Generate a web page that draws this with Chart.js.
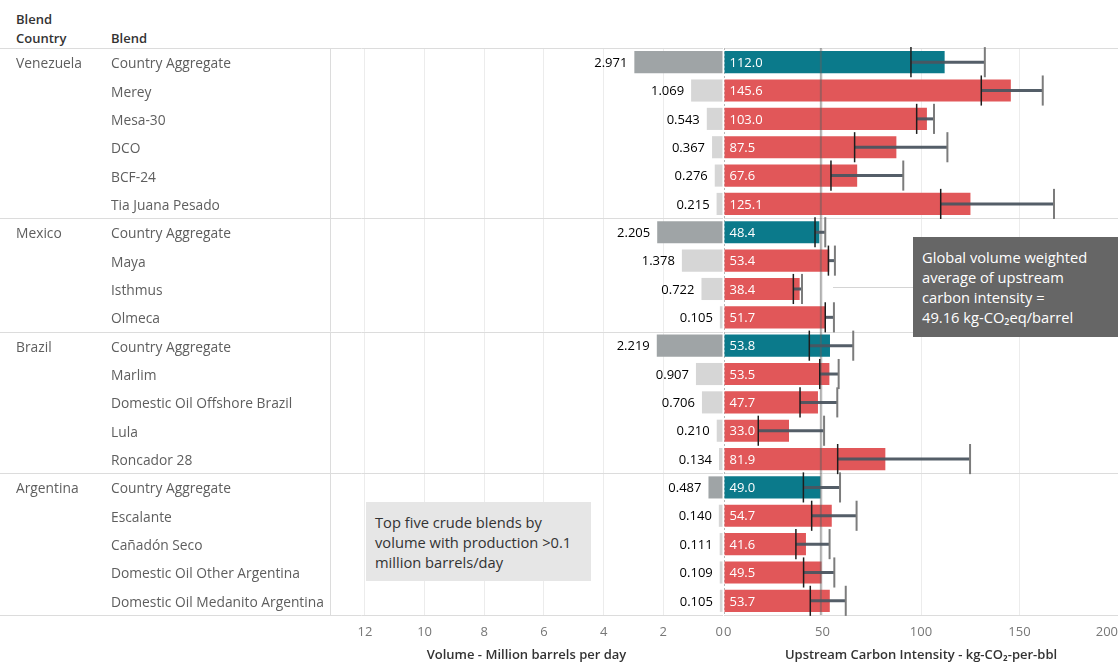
<!DOCTYPE html>
<html>
<head>
<meta charset="utf-8">
<script src="https://cdn.jsdelivr.net/npm/chart.js@4.4.1/dist/chart.umd.min.js"></script>
<style>
    body { margin: 0; background: #fff; font-family: "Open Sans", sans-serif; }
    #wrap { position: relative; width: 1118px; height: 665px; overflow: hidden; }
    canvas { position: absolute; top: 0; }
    #volChart { left: 0; }
    #ciChart { left: 700px; }
    .rowLabel { position: absolute; font-size: 13.8px; color: #5e5e5e; white-space: nowrap; line-height: 18px; transform: translateY(-50%); }
    .header { position: absolute; font-size: 13px; color: #333; font-weight: 600; line-height: 19px; }
    .note { position: absolute; box-sizing: border-box; font-size: 14.7px; line-height: 20px; }
    .connector { position: absolute; height: 1px; background: #d4d4d4; }
</style>
</head>
<body>
<div id="wrap">
    <div class="header" style="left:16px; top:10px;">Blend<br>Country</div>
    <div class="header" style="left:111px; top:29px;">Blend</div>
    <canvas id="volChart" width="745" height="665"></canvas>
    <canvas id="ciChart" width="428" height="665"></canvas>
</div>
<script>
const countryNames = ['Venezuela', 'Mexico', 'Brazil', 'Argentina'];
const blendsPerCountry = [6, 4, 5, 5];
const blends = [
    'Country Aggregate', 'Merey', 'Mesa-30', 'DCO', 'BCF-24', 'Tia Juana Pesado',
    'Country Aggregate', 'Maya', 'Isthmus', 'Olmeca',
    'Country Aggregate', 'Marlim', 'Domestic Oil Offshore Brazil', 'Lula', 'Roncador 28',
    'Country Aggregate', 'Escalante', 'Cañadón Seco', 'Domestic Oil Other Argentina', 'Domestic Oil Medanito Argentina'
];
// million barrels per day
const volume = [2.971, 1.069, 0.543, 0.367, 0.276, 0.215,
    2.205, 1.378, 0.722, 0.105,
    2.219, 0.907, 0.706, 0.210, 0.134,
    0.487, 0.140, 0.111, 0.109, 0.105];
// kg-CO2 per bbl
const intensity = [112.0, 145.6, 103.0, 87.5, 67.6, 125.1,
    48.4, 53.4, 38.4, 51.7,
    53.8, 53.5, 47.7, 33.0, 81.9,
    49.0, 54.7, 41.6, 49.5, 53.7];
const intensityLow = [94.9, 130.6, 97.8, 66.3, 54.3, 110.0,
    46.2, 53.0, 35.2, 51.4,
    43.3, 48.6, 38.6, 17.4, 57.7,
    40.3, 44.5, 36.5, 40.4, 43.8];
const intensityHigh = [132.4, 161.8, 106.6, 113.4, 91.0, 167.5,
    51.4, 56.3, 39.6, 55.8,
    65.6, 58.2, 57.5, 50.8, 124.9,
    58.9, 67.3, 53.6, 56.0, 61.8];
const globalAverage = 49.16;
const volumeAxisMax = 13.17;
const intensityAxisMax = 200;

Chart.defaults.font.family = '"Open Sans", sans-serif';

// country of each row
const rowCountry = [];
countryNames.forEach((c, k) => {
    for (let j = 0; j < blendsPerCountry[k]; j++) rowCountry.push(c);
});
const isAggregate = blends.map(b => b === 'Country Aggregate');

// pixel y of the lines between countries
function groupLines(chart) {
    const y = chart.scales.y;
    const lines = [chart.chartArea.top, chart.chartArea.bottom];
    for (let i = 1; i < blends.length; i++) {
        if (rowCountry[i] !== rowCountry[i - 1]) {
            lines.push((y.getPixelForValue(i - 1) + y.getPixelForValue(i)) / 2);
        }
    }
    return lines;
}

const volPlugin = {
    id: 'volExtras',
    beforeDraw(chart) {
        // keep left zero label right of the panel edge
        const items = chart.scales.x.getLabelItems();
        items.forEach(it => {
            if (it.label === '0') it.options.textAlign = 'right';
        });
    },
    beforeDatasetsDraw(chart) {
        const ctx = chart.ctx;
        const area = chart.chartArea;
        ctx.save();
        ctx.strokeStyle = '#dcdcdc';
        ctx.lineWidth = 1;
        groupLines(chart).forEach(y => {
            ctx.beginPath();
            ctx.moveTo(0, Math.round(y) + 0.5);
            ctx.lineTo(area.right, Math.round(y) + 0.5);
            ctx.stroke();
        });
        ctx.beginPath();
        ctx.moveTo(Math.round(area.left) + 0.5, area.top);
        ctx.lineTo(Math.round(area.left) + 0.5, area.bottom);
        ctx.stroke();
        ctx.restore();
    },
    afterDatasetsDraw(chart) {
        const ctx = chart.ctx;
        const meta = chart.getDatasetMeta(0);
        ctx.save();
        ctx.font = '13px "Open Sans", sans-serif';
        ctx.fillStyle = '#000';
        ctx.textAlign = 'right';
        ctx.textBaseline = 'middle';
        meta.data.forEach((el, i) => {
            ctx.fillText(volume[i].toFixed(3), el.x - 7, el.y + 1);
        });
        ctx.restore();
    }
};

const ciPlugin = {
    id: 'ciExtras',
    beforeDatasetsDraw(chart) {
        const ctx = chart.ctx;
        const area = chart.chartArea;
        const x = chart.scales.x;
        ctx.save();
        ctx.strokeStyle = '#dcdcdc';
        ctx.lineWidth = 1;
        groupLines(chart).forEach(y => {
            ctx.beginPath();
            ctx.moveTo(area.left, Math.round(y) + 0.5);
            ctx.lineTo(area.right, Math.round(y) + 0.5);
            ctx.stroke();
        });
        // dashed zero line
        ctx.setLineDash([2, 2]);
        ctx.strokeStyle = '#b8b8b8';
        const x0 = Math.round(x.getPixelForValue(0)) + 0.5;
        ctx.beginPath();
        ctx.moveTo(x0, area.top);
        ctx.lineTo(x0, area.bottom);
        ctx.stroke();
        ctx.restore();
    },
    afterDatasetsDraw(chart) {
        const ctx = chart.ctx;
        const area = chart.chartArea;
        const x = chart.scales.x;
        const meta = chart.getDatasetMeta(0);
        ctx.save();
        // values inside bars
        ctx.font = '13px "Open Sans", sans-serif';
        ctx.fillStyle = '#ffffff';
        ctx.textAlign = 'left';
        ctx.textBaseline = 'middle';
        meta.data.forEach((el, i) => {
            ctx.fillText(intensity[i].toFixed(1), el.base + 5, el.y + 1);
        });
        // global average line
        const xa = x.getPixelForValue(globalAverage);
        ctx.strokeStyle = 'rgba(95, 95, 95, 0.5)';
        ctx.lineWidth = 2;
        ctx.beginPath();
        ctx.moveTo(xa, area.top);
        ctx.lineTo(xa, area.bottom);
        ctx.stroke();
        // error bars
        meta.data.forEach((el, i) => {
            const x1 = x.getPixelForValue(intensityLow[i]);
            const x2 = x.getPixelForValue(intensityHigh[i]);
            const half = el.height / 2 + 4;
            ctx.strokeStyle = 'rgba(75, 85, 96, 0.95)';
            ctx.lineWidth = 3;
            ctx.beginPath();
            ctx.moveTo(x1, el.y);
            ctx.lineTo(x2, el.y);
            ctx.stroke();
            ctx.lineWidth = 1.5;
            ctx.strokeStyle = '#1e1e1e';
            ctx.beginPath();
            ctx.moveTo(x1, el.y - half);
            ctx.lineTo(x1, el.y + half);
            ctx.stroke();
            ctx.lineWidth = 2;
            ctx.strokeStyle = '#7c7c7c';
            ctx.beginPath();
            ctx.moveTo(x2, el.y - half);
            ctx.lineTo(x2, el.y + half);
            ctx.stroke();
        });
        ctx.restore();
    }
};

function axisOptions(min, max, step, reverse, title) {
    return {
        type: 'linear',
        min: min,
        max: max,
        reverse: reverse,
        afterFit: scale => { scale.height = 50; },
        grid: {
            color: ctx => (ctx.tick && (ctx.tick.value === 0 || ctx.tick.value === 200)) ? 'rgba(0,0,0,0)' : '#ececec',
            drawTicks: false
        },
        border: { display: false },
        ticks: {
            stepSize: step,
            includeBounds: false,
            padding: 9,
            color: '#777',
            font: { size: 13 },
            align: reverse ? 'center' : 'inner'
        },
        title: {
            display: true,
            text: title,
            color: '#333',
            font: { size: 13, weight: '600' },
            padding: { top: 0, bottom: 2 }
        }
    };
}

const volChart = new Chart(document.getElementById('volChart'), {
    type: 'bar',
    data: {
        labels: blends,
        datasets: [{
            data: volume,
            backgroundColor: isAggregate.map(a => a ? '#9fa4a6' : '#d6d6d6'),
            borderWidth: 0,
            categoryPercentage: 1,
            barPercentage: 0.78
        }]
    },
    options: {
        indexAxis: 'y',
        responsive: false,
        animation: false,
        layout: { padding: { top: 48, left: 330, right: 22, bottom: 0 } },
        plugins: { legend: { display: false }, tooltip: { enabled: false } },
        scales: {
            y: { display: false },
            x: axisOptions(0, volumeAxisMax, 2, true, 'Volume - Million barrels per day')
        }
    },
    plugins: [volPlugin]
});

// the right canvas runs 10px past the page edge so its plot ends at 1118
const ciChart = new Chart(document.getElementById('ciChart'), {
    type: 'bar',
    data: {
        labels: blends,
        datasets: [{
            data: intensity,
            backgroundColor: isAggregate.map(a => a ? '#0b7a8b' : '#e15759'),
            borderWidth: 0,
            categoryPercentage: 1,
            barPercentage: 0.78
        }]
    },
    options: {
        indexAxis: 'y',
        responsive: false,
        animation: false,
        layout: { padding: { top: 48, left: 24, right: 10, bottom: 0 } },
        plugins: { legend: { display: false }, tooltip: { enabled: false } },
        scales: {
            y: { display: false },
            x: axisOptions(0, intensityAxisMax, 50, false, 'Upstream Carbon Intensity - kg-CO\u2082-per-bbl')
        }
    },
    plugins: [ciPlugin]
});

// table labels on the left, placed on the chart rows
const wrap = document.getElementById('wrap');
const yScale = volChart.scales.y;
blends.forEach((b, i) => {
    const top = yScale.getPixelForValue(i) + 1;
    if (i === 0 || rowCountry[i] !== rowCountry[i - 1]) {
        const c = document.createElement('div');
        c.className = 'rowLabel';
        c.style.left = '16px';
        c.style.top = top + 'px';
        c.textContent = rowCountry[i];
        wrap.appendChild(c);
    }
    const d = document.createElement('div');
    d.className = 'rowLabel';
    d.style.left = '111px';
    d.style.top = top + 'px';
    d.textContent = b;
    wrap.appendChild(d);
});

// annotations
const avgX = 700 + ciChart.scales.x.getPixelForValue(globalAverage);
const connector = document.createElement('div');
connector.className = 'connector';
connector.style.left = (avgX + 12) + 'px';
connector.style.top = '287px';
connector.style.width = (913 - avgX - 12) + 'px';
wrap.appendChild(connector);

const avgNote = document.createElement('div');
avgNote.className = 'note';
avgNote.style.cssText = 'left:913px; top:237px; width:205px; height:100px; background:#666; color:#fff; padding:10px 0 0 9px;';
avgNote.innerHTML = 'Global volume weighted<br>average of upstream<br>carbon intensity =<br>49.16 kg-CO\u2082eq/barrel';
wrap.appendChild(avgNote);

const topNote = document.createElement('div');
topNote.className = 'note';
topNote.style.cssText = 'left:366px; top:502px; width:225px; height:79px; background:#e6e6e6; color:#333; padding:10px 0 0 9px;';
topNote.innerHTML = 'Top five crude blends by<br>volume with production &gt;0.1<br>million barrels/day';
wrap.appendChild(topNote);
</script>
</body>
</html>
